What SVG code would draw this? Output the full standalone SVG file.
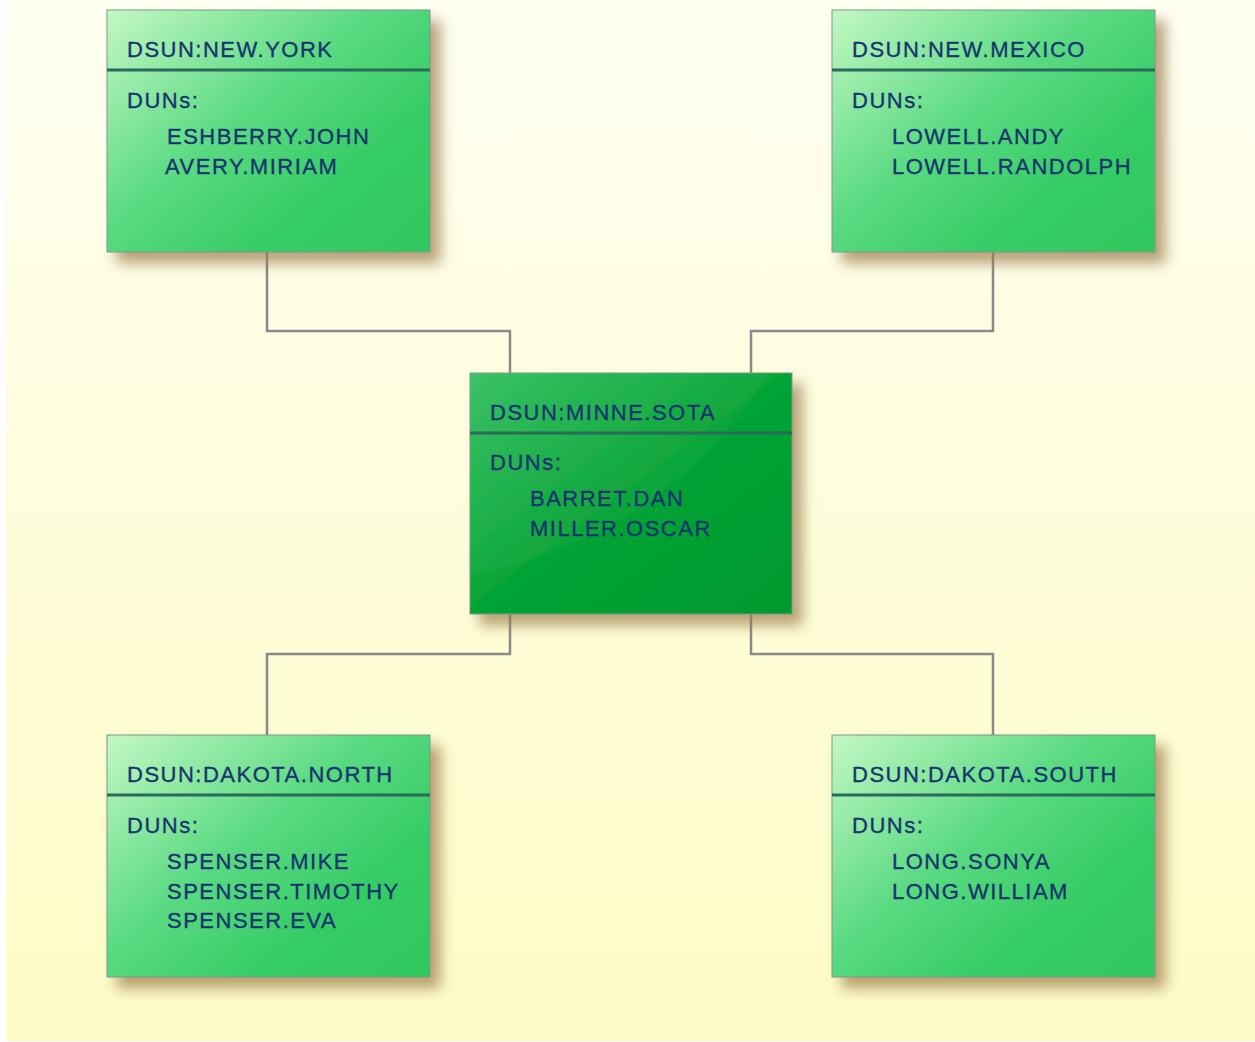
<svg xmlns="http://www.w3.org/2000/svg" width="1255" height="1042" viewBox="0 0 1255 1042">
<defs>
<linearGradient id="bg" x1="0" y1="0" x2="0" y2="1">
<stop offset="0" stop-color="#fffff2"/>
<stop offset="0.5" stop-color="#fefddb"/>
<stop offset="1" stop-color="#fdfcc6"/>
</linearGradient>
<linearGradient id="ng" x1="0" y1="0" x2="1" y2="0.9">
<stop offset="0" stop-color="#c4f8c4"/>
<stop offset="0.45" stop-color="#5ada82"/>
<stop offset="0.75" stop-color="#36cc66"/>
<stop offset="1" stop-color="#33c860"/>
</linearGradient>
<linearGradient id="cg" x1="0" y1="0" x2="1" y2="1">
<stop offset="0" stop-color="#33c060"/>
<stop offset="0.5" stop-color="#05a335"/>
<stop offset="1" stop-color="#00992e"/>
</linearGradient>
<filter id="sh" x="-10%" y="-10%" width="135%" height="140%">
<feDropShadow dx="10" dy="11" stdDeviation="7" flood-color="#9a7a48" flood-opacity="0.7"/>
</filter>
<clipPath id="cc"><rect x="470" y="373" width="322" height="241"/></clipPath>
</defs>
<style>
.box{stroke:#7a9a8a;stroke-width:1;filter:url(#sh)}
.div{stroke:#2a6a5a;stroke-width:3}
.t{font-family:"Liberation Sans",Arial,sans-serif;font-size:22px;fill:#17356e;stroke:#17356e;stroke-width:0.35;letter-spacing:1.5px}
.conn{fill:none;stroke:#8a8a8a;stroke-width:2.5}
</style>
<rect x="6" y="0" width="1249" height="1041" fill="url(#bg)"/>
<g id="connectors">
<polyline class="conn" points="267,252 267,331 510,331 510,373"/>
<polyline class="conn" points="993,252 993,331 751,331 751,373"/>
<polyline class="conn" points="510,614 510,654 267,654 267,735"/>
<polyline class="conn" points="751,614 751,654 993,654 993,735"/>
</g>
<g id="node-newyork">
<rect class="box" x="107" y="10" width="323" height="242" fill="url(#ng)"/>
<line class="div" x1="107" y1="70" x2="430" y2="70"/>
<text class="t" x="127" y="57">DSUN:NEW.YORK</text>
<text class="t" x="127" y="108">DUNs:</text>
<text class="t" x="167" y="144">ESHBERRY.JOHN</text>
<text class="t" x="165" y="174">AVERY.MIRIAM</text>
</g>
<g id="node-newmexico">
<rect class="box" x="832" y="10" width="323" height="242" fill="url(#ng)"/>
<line class="div" x1="832" y1="70" x2="1155" y2="70"/>
<text class="t" x="852" y="57">DSUN:NEW.MEXICO</text>
<text class="t" x="852" y="108">DUNs:</text>
<text class="t" x="892" y="144">LOWELL.ANDY</text>
<text class="t" x="892" y="174">LOWELL.RANDOLPH</text>
</g>
<g id="node-minnesota">
<rect class="box" x="470" y="373" width="322" height="241" fill="url(#cg)"/>
<path d="M470,575 Q660,540 770,373 L470,373 Z" fill="#ffffff" fill-opacity="0.04" clip-path="url(#cc)"/>
<line class="div" x1="470" y1="433" x2="792" y2="433"/>
<text class="t" x="490" y="420">DSUN:MINNE.SOTA</text>
<text class="t" x="490" y="470">DUNs:</text>
<text class="t" x="530" y="506">BARRET.DAN</text>
<text class="t" x="530" y="536">MILLER.OSCAR</text>
</g>
<g id="node-dakotanorth">
<rect class="box" x="107" y="735" width="323" height="242" fill="url(#ng)"/>
<line class="div" x1="107" y1="795" x2="430" y2="795"/>
<text class="t" x="127" y="782">DSUN:DAKOTA.NORTH</text>
<text class="t" x="127" y="833">DUNs:</text>
<text class="t" x="167" y="869">SPENSER.MIKE</text>
<text class="t" x="167" y="899">SPENSER.TIMOTHY</text>
<text class="t" x="167" y="928">SPENSER.EVA</text>
</g>
<g id="node-dakotasouth">
<rect class="box" x="832" y="735" width="323" height="242" fill="url(#ng)"/>
<line class="div" x1="832" y1="795" x2="1155" y2="795"/>
<text class="t" x="852" y="782">DSUN:DAKOTA.SOUTH</text>
<text class="t" x="852" y="833">DUNs:</text>
<text class="t" x="892" y="869">LONG.SONYA</text>
<text class="t" x="892" y="899">LONG.WILLIAM</text>
</g>
</svg>
